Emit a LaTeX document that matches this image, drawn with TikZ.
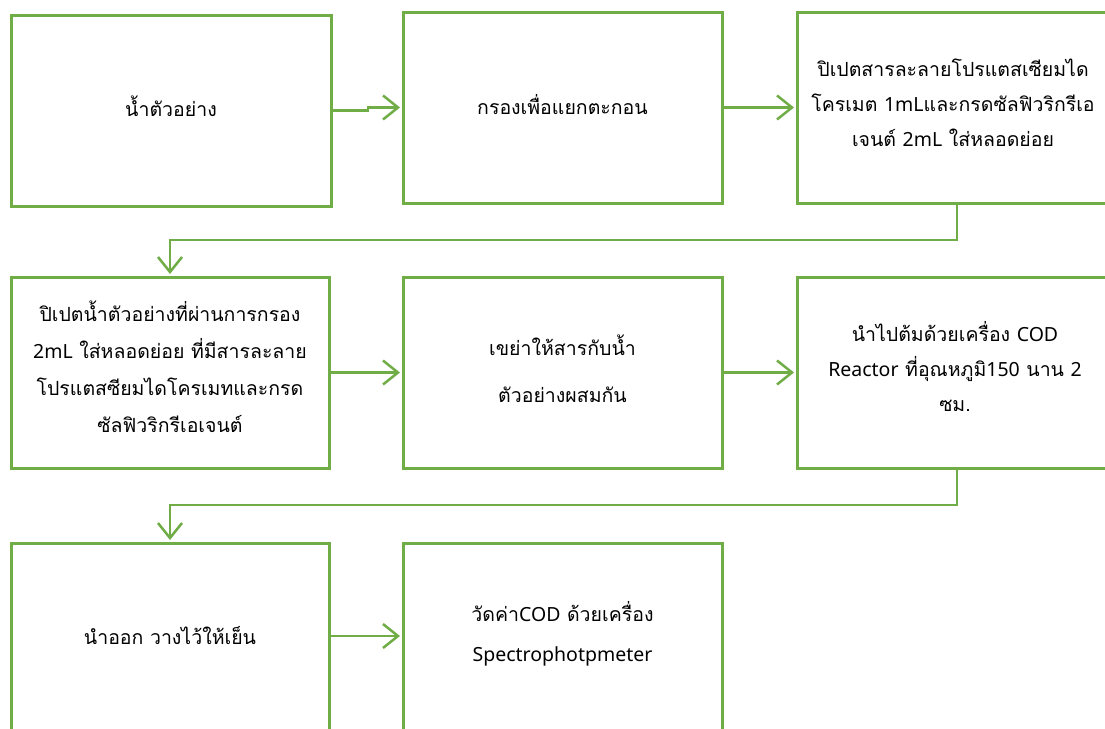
\documentclass[tikz,border=0pt]{standalone}
\usepackage{fontspec}
\newfontfamily\thaifont[Script=Thai]{Loma}
\newfontfamily\latfont{Noto Sans}
\newcommand\lat[1]{{\latfont #1}}
\newcommand\lifted[2][5pt]{\parbox{310pt}{\centering #2\par\vspace*{#1}\vspace*{#1}}}
\usetikzlibrary{arrows.meta}
\definecolor{boxgreen}{HTML}{70AD47}
\tikzset{
  flowbox/.style={draw=boxgreen, line width=3pt, fill=white, rectangle, outer sep=0pt,
    minimum width=#1, minimum height=191pt, inner sep=0pt, align=center,
    font=\thaifont\fontsize{19.5pt}{35pt}\selectfont},
  flowbox/.default=320pt,
  link/.style={draw=boxgreen, line width=2.5pt,
    -{Straight Barb[length=15pt,width=24pt,line width=2.5pt]}, shorten >=3pt}
}
\begin{document}
\begin{tikzpicture}[x=1pt,y=-1pt]
\useasboundingbox (0,0) rectangle (1105,728);
\clip (0,0) rectangle (1105,728);
% row 1
\node[flowbox=320pt] (b1) at (171,110.5) {\lifted[4pt]{น้ำตัวอย่าง}};
\node[flowbox=319pt] (b2) at (562.5,107.5) {\lifted[3pt]{กรองเพื่อแยกตะกอน}};
\node[flowbox=320pt] (b3) at (957,107.5) {\lifted[5pt]{\hspace*{-8pt}ปิเปตสารละลายโปรแตสเซียมได\\\hspace*{-8pt}โครเมต \lat{1mL}และกรดซัลฟิวริกรีเอ\\\hspace*{-8pt}เจนต์ \lat{2mL} ใส่หลอดย่อย}};
% row 2
\node[flowbox=318pt, font=\thaifont\fontsize{19.5pt}{37pt}\selectfont] (b4) at (170,372.5) {\lifted[6pt]{ปิเปตน้ำตัวอย่างที่ผ่านการกรอง\\\lat{2mL} ใส่หลอดย่อย ที่มีสารละลาย\\โปรแตสซียมไดโครเมทและกรด\\ซัลฟิวริกรีเอเจนต์}};
\node[flowbox=319pt, font=\thaifont\fontsize{19.5pt}{47pt}\selectfont] (b5) at (562.5,372.5) {\lifted[4pt]{เขย่าให้สารกับน้ำ\\ตัวอย่างผสมกัน}};
\node[flowbox=320pt] (b6) at (957,372.5) {\lifted[6pt]{\hspace*{-4pt}นำไปต้มด้วยเครื่อง \lat{COD}\\\hspace*{-4pt}\lat{Reactor} ที่อุณหภูมิ\lat{150} นาน \lat{2}\\\hspace*{-4pt}ซม.}};
% row 3
\node[flowbox=318pt] (b7) at (170,638.5) {\lifted[3pt]{นำออก วางไว้ให้เย็น}};
\node[flowbox=319pt, font=\thaifont\fontsize{19.5pt}{40pt}\selectfont] (b8) at (562.5,638.5) {\lifted[5pt]{วัดค่า\lat{COD} ด้วยเครื่อง\\\lat{Spectrophotpmeter}}};
% connectors
\coordinate (k1) at (368,0);
\coordinate (m1) at (0,240);
\coordinate (m2) at (0,505);
\coordinate (r3) at (0,636);
\draw[link] (b1.east) -- (b1.east -| k1) |- (b2.west);
\draw[link] (b2) -- (b3);
\draw[link] (b3.south) -- (b3.south |- m1) -| (b4.north);
\draw[link] (b4) -- (b5);
\draw[link] (b5) -- (b6);
\draw[link] (b6.south) -- (b6.south |- m2) -| (b7.north);
\draw[link] (b7.east |- r3) -- (b8.west |- r3);
\end{tikzpicture}
\end{document}
